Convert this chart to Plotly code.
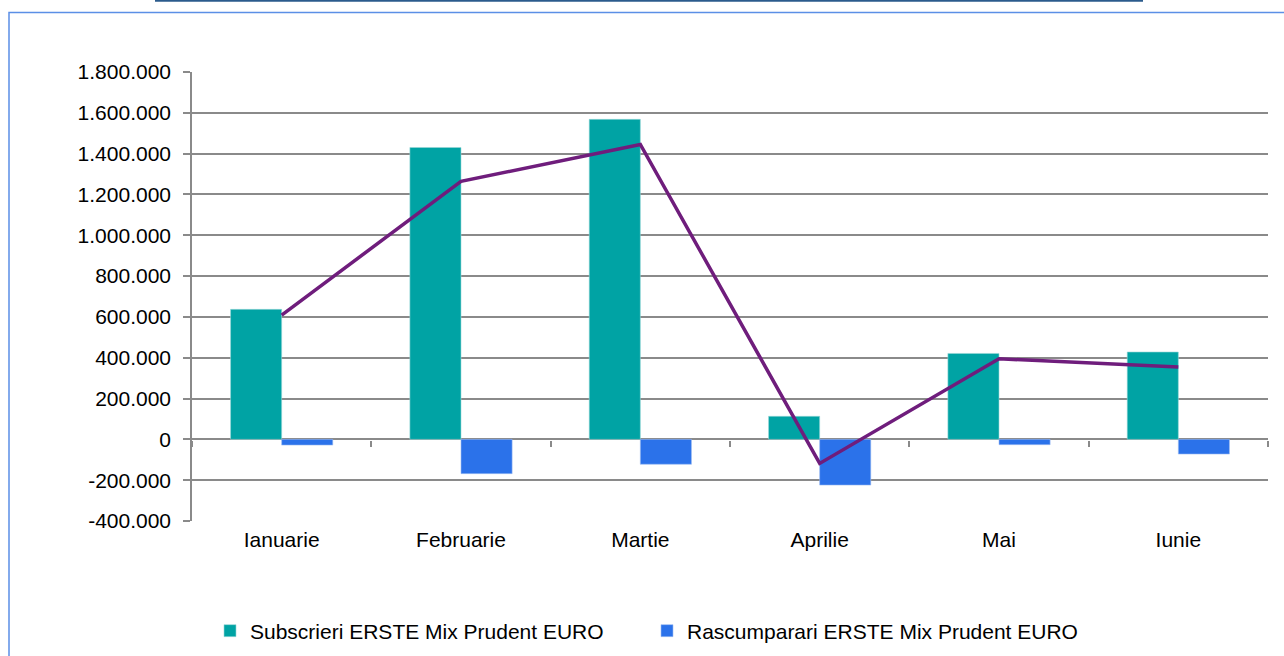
import plotly.graph_objects as go

months = ["Ianuarie", "Februarie", "Martie", "Aprilie", "Mai", "Iunie"]
subscrieri = [637000, 1430000, 1568000, 113000, 421000, 428000]
rascumparari = [-28000, -168000, -122000, -224000, -26000, -72000]
net = [609000, 1264000, 1445000, -118000, 395000, 354000]

y_tickvals = [-400000, -200000, 0, 200000, 400000, 600000, 800000, 1000000,
              1200000, 1400000, 1600000, 1800000]
y_ticktext = ["-400.000", "-200.000", "0", "200.000", "400.000", "600.000",
              "800.000", "1.000.000", "1.200.000", "1.400.000", "1.600.000",
              "1.800.000"]

W, H = 1284, 656
L, R, T, B = 192, 1268, 72, 521
pw, ph = R - L, B - T


def px(x):
    return (x - L) / pw


def py(y):
    return (B - y) / ph


FONT = "Liberation Sans, Arial, sans-serif"
FS = 21
GRID = "#8a8a8a"

fig = go.Figure()
fig.add_trace(go.Bar(
    x=months, y=subscrieri, name="Subscrieri ERSTE Mix Prudent EURO",
    marker=dict(color="#00A3A4", line=dict(color="#9ad6d6", width=0.6)),
    xaxis="x", yaxis="y",
))
fig.add_trace(go.Bar(
    x=months, y=rascumparari, name="Rascumparari ERSTE Mix Prudent EURO",
    marker=dict(color="#2B72EA", line=dict(color="#9dbcf2", width=0.6)),
    xaxis="x", yaxis="y",
))
fig.add_trace(go.Scatter(
    x=months, y=net, mode="lines", showlegend=False,
    line=dict(color="#6F1D7C", width=3.5),
    xaxis="x2", yaxis="y",
))

fig.update_layout(
    width=W, height=H,
    margin=dict(l=L, r=W - R, t=T, b=H - B, pad=0, autoexpand=False),
    paper_bgcolor="white", plot_bgcolor="white",
    font=dict(family=FONT, size=FS, color="#000000"),
    barmode="group", bargap=0.43, bargroupgap=0,
    showlegend=True,
    legend=dict(orientation="h", x=px(210), y=py(631), xanchor="left",
                yanchor="middle", font=dict(size=FS),
                entrywidth=392, entrywidthmode="pixels",
                itemwidth=30, bgcolor="rgba(0,0,0,0)"),
    xaxis=dict(
        type="category", anchor="free", position=py(440),
        range=[-0.5, 5.5], automargin=False,
        showticklabels=False, ticks="outside", tickson="boundaries",
        ticklen=6, tickwidth=1.5, tickcolor=GRID,
        showgrid=False, showline=False, zeroline=False,
    ),
    xaxis2=dict(
        type="category", overlaying="x", anchor="y", side="bottom",
        range=[-0.5, 5.5], automargin=False,
        ticks="", showgrid=False, showline=False, zeroline=False,
        tickfont=dict(size=FS), ticklabelstandoff=4,
    ),
    yaxis=dict(
        range=[-400000, 1800000], automargin=False,
        tickvals=y_tickvals, ticktext=y_ticktext,
        showgrid=True, gridcolor=GRID, gridwidth=1.5,
        zeroline=True, zerolinecolor=GRID, zerolinewidth=1.5,
        showline=True, linecolor=GRID, linewidth=1.5,
        ticks="outside", ticklen=7, tickwidth=1.5, tickcolor=GRID,
        ticklabelstandoff=8, tickfont=dict(size=FS),
    ),
    shapes=[
        dict(type="rect", xref="paper", yref="paper",
             x0=px(9), x1=px(1300), y0=py(700), y1=py(12.5),
             line=dict(color="#5B8FE6", width=1.5), fillcolor="rgba(0,0,0,0)",
             layer="below"),
        dict(type="line", xref="paper", yref="paper",
             x0=px(155), x1=px(1143), y0=py(0.8), y1=py(0.8),
             line=dict(color="#2B5B8C", width=2)),
    ],
)

fig.write_html("out.html", config={"displayModeBar": False},
               post_script="document.body.style.margin='0';")
